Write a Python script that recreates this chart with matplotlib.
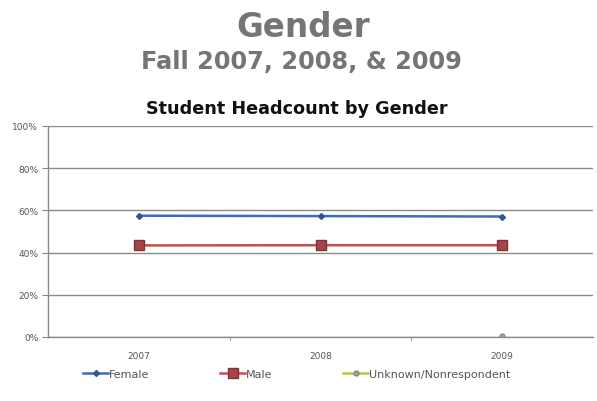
import matplotlib
matplotlib.use("Agg")
import matplotlib.pyplot as plt
import numpy as np

years = ["2007", "2008", "2009"]
female = [57.5, 57.3, 57.1]
male = [43.4, 43.5, 43.5]
unknown = [None, None, 0.3]
y_ticks = [0, 20, 40, 60, 80, 100]
y_labels = ["0%", "20%", "40%", "60%", "80%", "100%"]

fig = plt.figure(figsize=(5.97, 4.02), dpi=100)
fig.patch.set_facecolor("white")

fig.text(0.508, 0.932, "Gender", ha="center", va="center", fontsize=23.5,
         color="#757575", fontweight="bold", family="DejaVu Sans")
fig.text(0.505, 0.846, "Fall 2007, 2008, & 2009", ha="center", va="center",
         fontsize=17.3, color="#757575", fontweight="bold", family="DejaVu Sans")
fig.text(297 / 597, 1 - 109 / 402, "Student Headcount by Gender", ha="center",
         va="center", fontsize=12.7, fontweight="bold", color="#111111",
         family="DejaVu Sans")

ax = fig.add_axes([48 / 597, 1 - 338 / 402, 545 / 597, 211 / 402])

x = np.arange(len(years)) + 0.5
ax.plot(x, female, color="#3a6cc0", lw=1.8, marker="D", ms=3,
        markerfacecolor="#2f5596", markeredgecolor="#2f5596", label="Female")
ax.plot(x, male, color="#c0504d", lw=1.8, marker="s", ms=6.5,
        markerfacecolor="#a8434a", markeredgecolor="#7a3535", label="Male")
unk = np.array([np.nan if v is None else v for v in unknown], dtype=float)
ax.plot(x, unk, color="#b5cc3a", lw=1.8, marker="o", ms=3.5,
        markerfacecolor="#a0a0a0", markeredgecolor="#888888",
        label="Unknown/Nonrespondent")

ax.set_xlim(0, 3)
ax.set_ylim(0, 100)
ax.set_yticks(y_ticks)
ax.set_yticklabels(y_labels, fontsize=6.5, color="#555555")
ax.set_xticks(x)
ax.set_xticklabels(years, fontsize=6.5, color="#555555")
ax.tick_params(axis="x", length=0, pad=10)
ax.tick_params(axis="y", length=4, color="#888888", pad=3)
for b in [1, 2]:
    ax.plot([b, b], [0, -1.6], color="#aaaaaa", lw=0.8, clip_on=False)

ax.yaxis.grid(True, color="#8a8a8a", lw=1)
ax.set_axisbelow(True)
for s in ["top", "right"]:
    ax.spines[s].set_visible(False)
ax.spines["left"].set_color("#8a8a8a")
ax.spines["bottom"].set_color("#8a8a8a")
ax.spines["left"].set_linewidth(1)
ax.spines["bottom"].set_linewidth(1)

ax.legend(loc="upper left", bbox_to_anchor=(35 / 545, -0.152), ncol=3,
          frameon=False, fontsize=8, handlelength=2.25, handletextpad=0.05,
          columnspacing=6.4, borderpad=0, borderaxespad=0,
          labelcolor="#555555")

fig.savefig("out.png", dpi=100)
